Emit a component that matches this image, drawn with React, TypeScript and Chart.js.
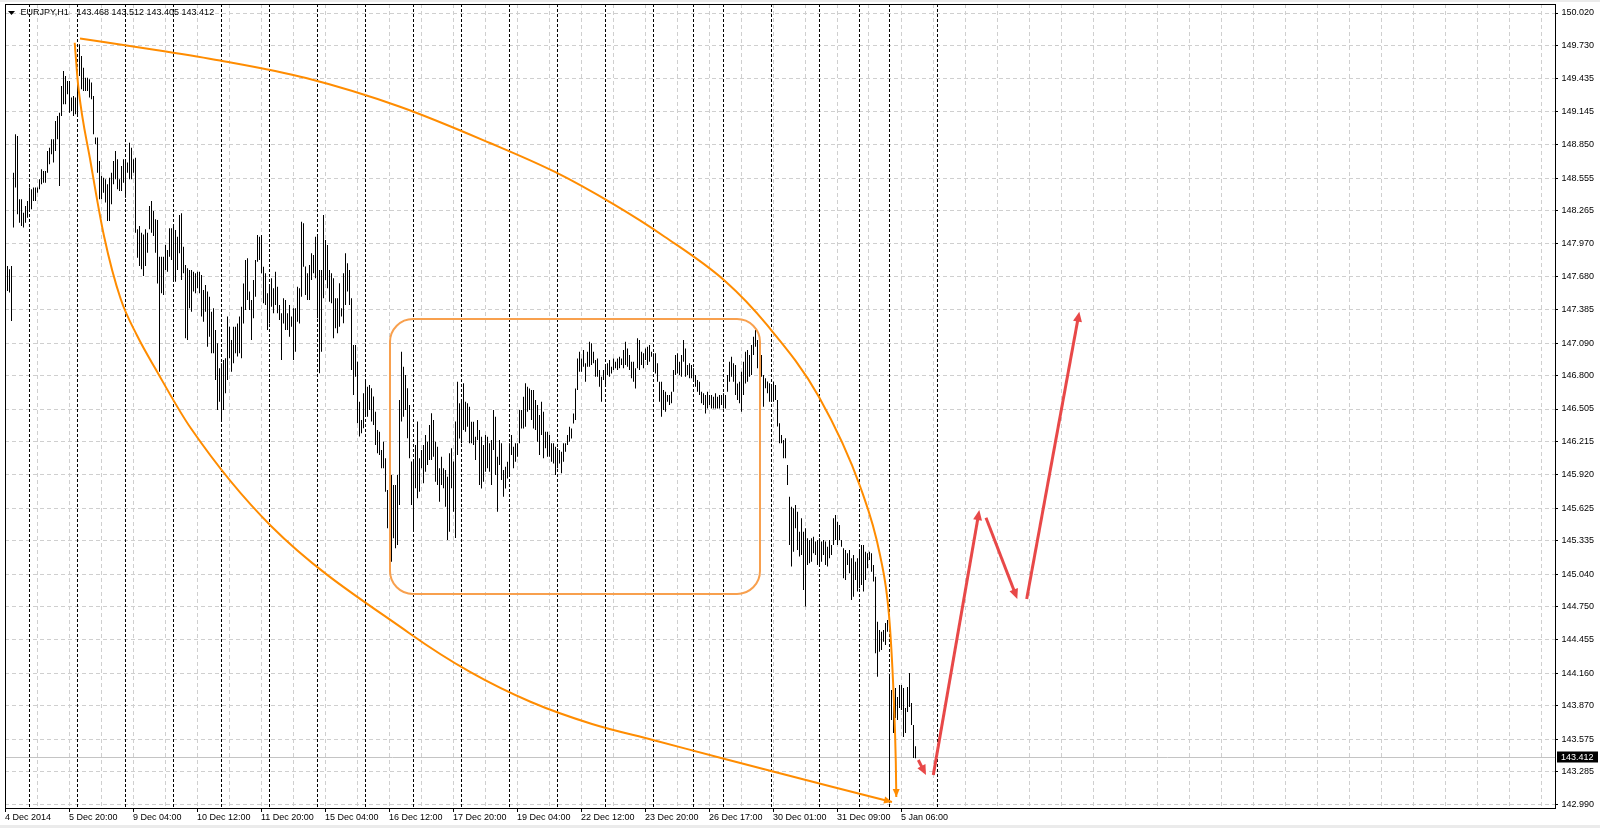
import React, { useEffect, useRef } from 'react';
import { Chart, registerables } from 'chart.js';

Chart.register(...registerables);

// ---------- data ----------
const symbolTitle = 'EURJPY,H1';
const headerOHLC = ['143.468', '143.512', '143.405', '143.412'];
const lastPrice = 143.412;

const priceTicks = [150.020, 149.730, 149.435, 149.145, 148.850, 148.555, 148.265, 147.970, 147.680, 147.385,
  147.090, 146.800, 146.505, 146.215, 145.920, 145.625, 145.335, 145.040, 144.750, 144.455,
  144.160, 143.870, 143.575, 143.285, 142.990];

const timeLabels = ['4 Dec 2014', '5 Dec 20:00', '9 Dec 04:00', '10 Dec 12:00', '11 Dec 20:00', '15 Dec 04:00',
  '16 Dec 12:00', '17 Dec 20:00', '19 Dec 04:00', '22 Dec 12:00', '23 Dec 20:00', '26 Dec 17:00',
  '30 Dec 01:00', '31 Dec 09:00', '5 Jan 06:00'];

const barsPerGrid = 16;
const gridCount = 48;
const firstBarOffset = -1.25;
const visibleBars = 775;

const daySeparators = [11, 35, 59, 83, 107, 131, 155, 179, 203, 227, 251, 275, 299, 323, 343, 358, 382, 406, 426, 441, 465];

const barHigh = [
  147.774,147.745,147.774,148.603,148.943,148.928,148.366,148.366,148.248,148.307,
  148.351,148.470,148.455,148.470,148.470,148.470,148.544,148.632,148.618,148.618,
  148.795,148.825,148.899,148.899,149.061,149.106,149.135,149.372,149.505,149.461,
  149.417,149.417,149.269,149.283,149.269,149.461,149.742,149.638,149.535,149.446,
  149.446,149.431,149.402,149.283,148.914,148.914,148.706,148.573,148.558,148.544,
  148.499,148.558,148.603,148.706,148.795,148.721,148.544,148.662,148.721,148.706,
  148.692,148.869,148.825,148.721,148.736,148.100,148.129,148.070,148.055,148.100,
  148.070,148.307,148.351,148.263,148.189,
  148.183,147.857,147.857,147.857,147.961,147.916,148.109,148.109,148.138,148.094,
  148.035,148.227,148.242,147.946,147.783,147.754,147.739,147.739,147.724,147.709,
  147.724,147.724,147.694,147.561,147.606,147.547,147.502,147.369,147.399,147.206,
  147.088,146.866,146.910,146.940,146.955,147.325,147.236,147.117,147.236,147.236,
  147.265,147.325,147.413,147.620,147.828,147.842,147.547,147.473,147.650,147.828,
  148.050,148.035,148.050,147.768,147.709,147.532,147.591,147.665,147.576,147.724,
  147.591,147.428,147.354,147.487,147.473,147.354,147.428,147.325,147.399,147.399,
  147.591,147.576,148.168,148.153,
  147.769,147.709,147.783,147.887,147.872,148.035,148.050,147.739,147.739,148.227,
  148.005,147.961,147.739,147.709,147.665,147.487,147.487,147.621,147.399,147.709,
  147.887,147.798,147.739,147.487,147.073,147.073,146.925,146.570,146.407,146.644,
  146.763,146.703,146.718,146.689,146.615,146.481,146.319,146.304,146.141,146.215,
  146.067,145.786,146.052,145.919,145.830,145.830,145.919,146.585,147.014,146.881,
  146.807,146.689,146.541,146.038,146.052,146.186,146.393,146.067,146.141,146.186,
  146.274,146.215,146.363,146.467,146.407,146.215,146.171,145.978,146.082,145.978,
  145.964,145.904,146.112,146.156,146.038,146.393,
  146.747,146.555,146.585,146.733,146.570,146.555,146.525,146.392,146.392,146.259,
  146.407,146.318,146.259,146.185,146.274,146.259,146.200,146.230,146.496,146.437,
  146.082,146.230,146.200,145.963,145.993,146.037,146.200,146.274,146.170,146.200,
  146.200,146.496,146.496,146.614,146.733,146.703,146.688,146.673,146.673,146.585,
  146.540,146.451,146.570,146.481,146.304,146.304,146.274,146.200,146.200,146.170,
  146.156,146.141,146.126,146.200,146.200,146.274,146.348,146.333,146.466,146.688,
  146.954,147.014,146.954,147.028,146.910,147.014,147.102,147.088,147.014,146.940,
  146.954,146.851,146.792,146.851,146.880,
  146.910,146.940,146.880,146.954,146.925,146.954,146.969,146.954,147.028,147.102,
  147.043,146.984,146.925,146.925,146.866,147.132,147.117,147.014,146.999,147.043,
  147.058,147.073,147.014,146.999,146.999,146.910,146.747,146.747,146.673,146.658,
  146.629,146.629,146.658,146.851,146.984,146.999,146.925,146.984,147.117,147.043,
  146.895,146.910,146.895,146.866,146.806,146.762,146.747,146.658,146.644,146.629,
  146.658,146.629,146.629,146.614,146.644,146.614,146.629,146.629,146.644,146.629,
  146.806,146.925,146.969,146.910,146.895,146.732,146.747,146.836,146.925,147.014,
  147.028,146.984,147.073,147.147,147.206,
  147.118,147.044,146.985,146.807,146.778,146.748,146.733,146.704,146.748,146.718,
  146.585,146.378,146.275,146.230,146.245,146.008,145.727,145.638,145.624,145.653,
  145.594,145.416,145.535,145.416,145.446,145.357,145.342,145.357,145.372,145.328,
  145.342,145.357,145.328,145.342,145.328,145.283,145.342,145.298,145.535,145.564,
  145.505,145.476,145.342,145.268,145.254,145.224,145.254,145.180,145.209,145.150,
  145.180,145.254,145.298,145.298,145.239,145.224,145.239,145.224,145.121,145.017,
  144.617,144.544,
  144.528,144.543,144.605,144.632,144.129,144.011,144.028,144.028,143.949,144.055,
  144.055,144.028,143.851,144.037,144.162,143.895,143.700,143.512,
];

const barLow = [
  147.552,147.538,147.286,148.115,148.470,148.233,148.159,148.129,148.115,148.159,
  148.203,148.263,148.277,148.351,148.351,148.425,148.455,148.499,148.514,148.514,
  148.603,148.677,148.766,148.692,148.795,148.899,148.485,149.106,149.209,149.209,
  149.298,149.135,149.150,149.106,149.121,149.121,149.461,149.343,149.328,149.328,
  149.328,149.269,149.254,148.943,148.854,148.603,148.366,148.366,148.425,148.337,
  148.174,148.174,148.322,148.499,148.544,148.455,148.440,148.440,148.514,148.381,
  148.603,148.544,148.544,148.603,148.070,147.848,147.774,147.745,147.686,147.774,
  147.893,148.100,148.070,148.041,147.893,
  147.620,146.836,147.532,147.517,147.739,147.724,147.857,147.828,147.650,147.635,
  147.739,147.887,147.650,147.709,147.132,147.117,147.399,147.369,147.547,147.532,
  147.576,147.532,147.325,147.280,147.369,147.058,147.147,146.999,146.999,146.762,
  146.496,146.570,146.407,146.496,146.644,146.762,146.955,146.836,146.910,146.999,
  146.970,146.999,146.955,147.265,147.384,147.472,147.384,147.117,147.310,147.502,
  147.813,147.828,147.709,147.443,147.428,147.206,147.265,147.413,147.354,147.428,
  147.354,147.295,146.940,147.265,147.206,147.206,147.147,147.236,146.940,147.014,
  147.280,147.265,147.502,147.768,
  147.517,147.473,147.473,147.650,147.709,147.665,147.310,146.822,147.014,147.487,
  147.650,147.576,147.458,147.443,147.132,147.221,147.177,147.236,147.325,147.266,
  147.428,147.547,147.428,146.851,146.629,146.792,146.378,146.260,146.289,146.334,
  146.452,146.437,146.496,146.393,146.363,146.186,146.112,146.097,145.978,145.978,
  145.771,145.446,145.209,145.150,145.357,145.268,145.298,145.653,146.393,146.437,
  146.496,146.245,146.067,145.653,145.431,145.801,145.712,145.771,145.978,145.845,
  145.949,146.008,146.052,146.052,146.082,145.860,145.830,145.682,145.830,145.801,
  145.638,145.342,145.416,145.801,145.594,145.360,
  146.096,146.244,146.200,146.318,146.304,146.348,146.200,146.200,146.185,146.052,
  146.230,145.830,145.800,145.860,145.948,145.978,145.948,145.830,146.141,145.919,
  145.593,146.008,145.874,145.727,145.800,145.889,145.919,146.096,145.978,146.037,
  146.082,146.200,146.333,146.333,146.348,146.481,146.496,146.407,146.333,146.318,
  146.215,146.096,146.274,146.067,146.156,146.082,146.082,146.037,146.022,145.919,
  145.978,146.022,145.934,146.037,146.126,146.185,146.215,146.244,146.377,146.407,
  146.673,146.836,146.836,146.881,146.747,146.881,146.881,146.895,146.910,146.792,
  146.792,146.703,146.570,146.762,146.703,
  146.806,146.792,146.821,146.851,146.866,146.851,146.866,146.895,146.866,146.895,
  146.880,146.851,146.777,146.747,146.688,146.866,146.851,146.895,146.866,146.940,
  146.895,146.925,146.969,146.851,146.821,146.747,146.570,146.437,146.496,146.481,
  146.570,146.540,146.555,146.658,146.806,146.821,146.806,146.792,146.925,146.792,
  146.806,146.777,146.777,146.762,146.703,146.658,146.629,146.555,146.540,146.466,
  146.510,146.540,146.510,146.510,146.510,146.510,146.510,146.540,146.510,146.510,
  146.658,146.747,146.792,146.747,146.629,146.584,146.555,146.481,146.629,146.732,
  146.747,146.792,146.806,146.984,147.058,
  146.866,146.807,146.792,146.526,146.689,146.644,146.570,146.570,146.570,146.585,
  146.349,146.201,146.201,146.067,146.067,145.831,145.298,145.106,145.239,145.446,
  145.254,145.195,145.209,144.899,144.751,145.121,145.135,145.150,145.224,145.209,
  145.121,145.106,145.150,145.209,145.121,145.106,145.180,145.209,145.298,145.342,
  145.298,145.342,145.283,145.002,144.987,145.121,145.047,144.810,144.839,144.987,
  144.884,144.913,144.943,144.884,144.987,145.091,145.165,145.061,144.973,144.336,
  144.129,144.351,
  144.366,144.440,144.410,144.528,143.005,143.744,143.629,143.762,143.744,143.851,
  143.833,143.594,143.629,143.816,143.860,143.700,143.407,143.405,
];

// drawn objects, in [bar index, price]
const upperArc = [
  [36.25, 149.794], [74.25, 149.692], [106.25, 149.598], [149.25, 149.443], [196.25, 149.188],
  [241.25, 148.866], [273.75, 148.609], [302.75, 148.325], [328.75, 148.032], [358.75, 147.641],
  [379.75, 147.251], [405.75, 146.612], [426.6, 145.804], [436.25, 145.209], [440.75, 144.676],
  [443.0, 143.993], [444.15, 143.372], [444.4, 143.061],
];
const lowerArc = [
  [33.6, 149.756], [35.4, 149.366], [41.6, 148.691], [48.25, 148.041], [56.6, 147.481],
  [64.9, 147.153], [73.75, 146.869], [91.6, 146.336], [131.75, 145.467], [200.75, 144.517],
  [231.25, 144.171], [261.75, 143.904], [292.25, 143.709], [322.75, 143.567], [357.75, 143.403],
  [382.75, 143.287], [412.75, 143.150], [442.25, 143.017],
];
const rangeBox = [191.25, 147.304, 376.25, 144.863]; // left bar, top price, right bar, bottom price
const forecastArrows = [
  [455.4, 143.389, 459.25, 143.256],
  [462.9, 143.256, 485.9, 145.608],
  [489.25, 145.540, 504.9, 144.819],
  [509.6, 144.819, 535.9, 147.369],
];

// ---------- styles ----------
const FONT = '"Liberation Sans", Arial, sans-serif';
const ORANGE = '#FF8C00';
const BOX_ORANGE = '#F8A04E';
const RED = '#E84848';
const GRID = '#CFCFCF';

function arrowHead(ctx: CanvasRenderingContext2D, x1: number, y1: number, x2: number, y2: number, len: number, half: number, color: string) {
  const a = Math.atan2(y2 - y1, x2 - x1);
  const c = Math.cos(a), s = Math.sin(a);
  ctx.fillStyle = color;
  ctx.beginPath();
  ctx.moveTo(x2, y2);
  ctx.lineTo(x2 - len * c + half * s, y2 - len * s - half * c);
  ctx.lineTo(x2 - len * c - half * s, y2 - len * s + half * c);
  ctx.closePath();
  ctx.fill();
}

const mtPlugin = {
  id: 'mt4look',
  beforeDraw(chart: any) {
    const { ctx, width, height } = chart;
    ctx.save();
    ctx.fillStyle = '#ffffff';
    ctx.fillRect(0, 0, width, height);
    ctx.fillStyle = '#EBEBEB';
    ctx.fillRect(0, 0, width, 2);
    ctx.fillRect(0, height - 3, width, 3);
    ctx.restore();
  },
  beforeDatasetsDraw(chart: any) {
    const { ctx, chartArea: a, scales } = chart;
    const x = scales.x, y = scales.y;
    ctx.save();
    ctx.strokeStyle = '#000';
    ctx.lineWidth = 1;
    ctx.setLineDash([3, 2]);
    for (const v of daySeparators) {
      const px = Math.round(x.getPixelForValue(v) - 0.5) + 0.5;
      ctx.beginPath();
      ctx.moveTo(px, a.top);
      ctx.lineTo(px, a.bottom);
      ctx.stroke();
    }
    ctx.setLineDash([]);
    const py = Math.round(y.getPixelForValue(lastPrice) - 0.5) + 0.5;
    ctx.strokeStyle = '#C4C4C4';
    ctx.beginPath();
    ctx.moveTo(a.left, py);
    ctx.lineTo(a.right, py);
    ctx.stroke();
    ctx.restore();
  },
  afterDatasetsDraw(chart: any) {
    const { ctx, chartArea: a, scales } = chart;
    const x = scales.x, y = scales.y;
    ctx.save();
    ctx.beginPath();
    ctx.rect(a.left, a.top, a.right - a.left, a.bottom - a.top);
    ctx.clip();

    // range box
    const bx1 = x.getPixelForValue(rangeBox[0]);
    const by1 = y.getPixelForValue(rangeBox[1]);
    const bx2 = x.getPixelForValue(rangeBox[2]);
    const by2 = y.getPixelForValue(rangeBox[3]);
    ctx.strokeStyle = BOX_ORANGE;
    ctx.lineWidth = 2;
    ctx.beginPath();
    (ctx as any).roundRect(bx1, by1, bx2 - bx1, by2 - by1, 23);
    ctx.stroke();

    // arc arrowheads
    [1, 2].forEach((di) => {
      const meta = chart.getDatasetMeta(di);
      const pts = meta.data;
      const n = pts.length;
      if (n >= 2) arrowHead(ctx, pts[n - 2].x, pts[n - 2].y, pts[n - 1].x, pts[n - 1].y, 8, 3.5, ORANGE);
    });

    // forecast arrows
    for (const [v1, p1, v2, p2] of forecastArrows) {
      const x1 = x.getPixelForValue(v1), y1 = y.getPixelForValue(p1);
      const x2 = x.getPixelForValue(v2), y2 = y.getPixelForValue(p2);
      const ang = Math.atan2(y2 - y1, x2 - x1);
      const headLen = 10;
      ctx.strokeStyle = RED;
      ctx.lineWidth = 3;
      ctx.lineCap = 'butt';
      ctx.beginPath();
      ctx.moveTo(x1, y1);
      ctx.lineTo(x2 - (headLen - 2) * Math.cos(ang), y2 - (headLen - 2) * Math.sin(ang));
      ctx.stroke();
      arrowHead(ctx, x1, y1, x2, y2, headLen, 4.5, RED);
    }
    ctx.restore();
  },
  afterDraw(chart: any) {
    const { ctx, chartArea: a, scales } = chart;
    const y = scales.y;
    ctx.save();
    // frame
    ctx.strokeStyle = '#000';
    ctx.lineWidth = 1;
    ctx.strokeRect(a.left + 0.5, a.top + 0.5, a.right - a.left, a.bottom - a.top);

    // header
    ctx.fillStyle = '#000';
    ctx.beginPath();
    ctx.moveTo(a.left + 3, a.top + 7);
    ctx.lineTo(a.left + 10, a.top + 7);
    ctx.lineTo(a.left + 6.5, a.top + 11);
    ctx.closePath();
    ctx.fill();
    ctx.font = `9px ${FONT}`;
    ctx.textBaseline = 'middle';
    ctx.textAlign = 'left';
    ctx.fillText(symbolTitle, a.left + 15.5, a.top + 9);
    ctx.fillText(headerOHLC.join(' '), a.left + 71.5, a.top + 9);

    // last price label
    const py = Math.round(y.getPixelForValue(lastPrice) - 0.5) + 0.5;
    ctx.fillStyle = '#000';
    ctx.fillRect(a.right + 2, py - 6, 41, 11);
    ctx.fillStyle = '#fff';
    ctx.fillText(lastPrice.toFixed(3), a.right + 6, py);
    ctx.restore();
  },
};

export default function App() {
  const ref = useRef<HTMLCanvasElement | null>(null);

  useEffect(() => {
    document.body.style.margin = '0';
    const canvas = ref.current;
    if (!canvas) return;
    const n = Math.min(barHigh.length, barLow.length);
    const bars = [] as { x: number; y: [number, number] }[];
    for (let i = 0; i < n; i++) bars.push({ x: i, y: [barLow[i], barHigh[i]] });

    const gridValues: number[] = [];
    for (let k = 0; k <= gridCount; k++) gridValues.push(firstBarOffset + k * barsPerGrid);

    const span = priceTicks[0] - priceTicks[priceTicks.length - 1];
    const pxPerUnit = (24 * 33) / span;
    const yMax = priceTicks[0] + 9 / pxPerUnit;
    const yMin = priceTicks[priceTicks.length - 1] - 3 / pxPerUnit;

    const chart = new Chart(canvas, {
      type: 'bar',
      data: {
        datasets: [
          {
            type: 'bar',
            data: bars as any,
            backgroundColor: '#000',
            borderWidth: 0,
            barThickness: 1,
            grouped: false,
            inflateAmount: 0,
            order: 3,
          } as any,
          {
            type: 'line',
            data: upperArc.map(([v, p]) => ({ x: v, y: p })),
            borderColor: ORANGE,
            borderWidth: 2,
            pointRadius: 0,
            cubicInterpolationMode: 'monotone',
            fill: false,
            order: 2,
          } as any,
          {
            type: 'line',
            data: lowerArc.map(([v, p]) => ({ x: v, y: p })),
            borderColor: ORANGE,
            borderWidth: 2,
            pointRadius: 0,
            cubicInterpolationMode: 'monotone',
            fill: false,
            order: 1,
          } as any,
        ],
      },
      options: {
        responsive: false,
        maintainAspectRatio: false,
        animation: false,
        devicePixelRatio: 1,
        events: [],
        layout: { padding: { left: 5, top: 4, right: 0, bottom: 0 } },
        plugins: { legend: { display: false }, tooltip: { enabled: false } },
        scales: {
          x: {
            type: 'linear',
            position: 'bottom',
            min: firstBarOffset,
            max: firstBarOffset + visibleBars,
            offset: false,
            afterBuildTicks: (s: any) => {
              s.ticks = gridValues.map((v) => ({ value: v }));
            },
            afterFit: (s: any) => {
              s.height = 20;
              s.paddingLeft = 0;
              s.paddingRight = 0;
            },
            ticks: {
              autoSkip: false,
              maxRotation: 0,
              minRotation: 0,
              align: 'start',
              padding: 0,
              color: '#000',
              font: { family: FONT, size: 9 },
              callback: (_v: any, i: number) => (i % 2 === 0 ? timeLabels[i / 2] ?? '' : ''),
            },
            grid: {
              offset: false,
              color: GRID,
              lineWidth: 1,
              drawTicks: true,
              tickLength: 4,
              tickBorderDash: [],
              tickColor: (c: any) => (c.index % 2 === 0 && timeLabels[c.index / 2] ? '#000' : 'rgba(0,0,0,0)'),
            },
            border: { display: false, dash: [4, 3] },
          } as any,
          y: {
            type: 'linear',
            position: 'right',
            min: yMin,
            max: yMax,
            afterBuildTicks: (s: any) => {
              s.ticks = priceTicks.map((v) => ({ value: v }));
            },
            afterFit: (s: any) => {
              s.width = 45;
              s.paddingTop = 0;
              s.paddingBottom = 0;
            },
            ticks: {
              autoSkip: false,
              padding: 3.5,
              color: '#000',
              font: { family: FONT, size: 9 },
              callback: (v: any) => Number(v).toFixed(3),
            },
            grid: {
              color: GRID,
              lineWidth: 1,
              drawTicks: true,
              tickLength: 3,
              tickBorderDash: [],
              tickColor: '#000',
            },
            border: { display: false, dash: [4, 3] },
          } as any,
        },
      } as any,
      plugins: [mtPlugin as any],
    });
    return () => chart.destroy();
  }, []);

  return <canvas ref={ref} width={1600} height={828} style={{ display: 'block', width: 1600, height: 828 }} />;
}
